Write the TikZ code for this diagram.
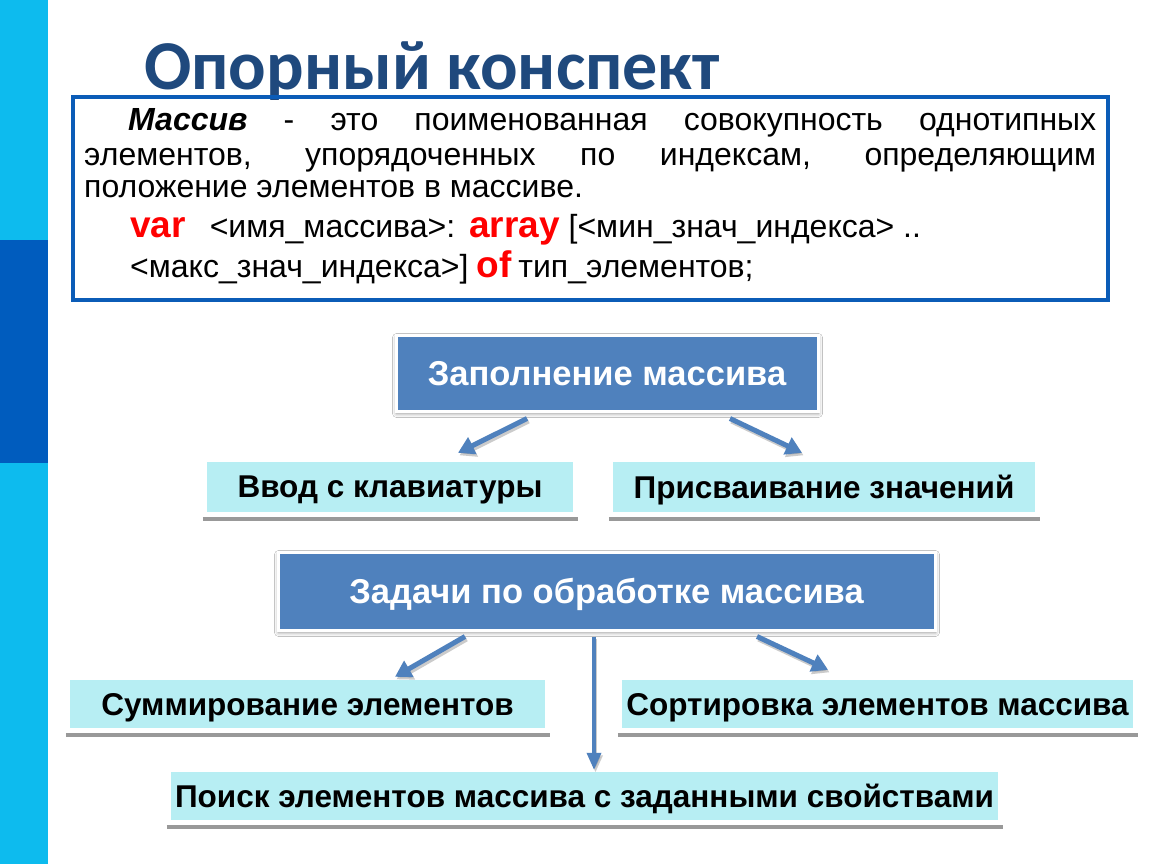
\documentclass[tikz,border=0pt]{standalone}
\usepackage{fontspec}
\setmainfont{Liberation Sans}
\newfontfamily\titlefont{Carlito}
\usetikzlibrary{arrows.meta,shadows.blur,calc}
\definecolor{sidelight}{RGB}{13,187,238}
\definecolor{sidedark}{RGB}{0,92,190}
\definecolor{titlecol}{RGB}{31,73,125}
\definecolor{framecol}{RGB}{11,92,183}
\definecolor{boxblue}{RGB}{79,129,189}
\definecolor{lightcyan}{RGB}{183,238,243}
\definecolor{kwred}{RGB}{255,0,0}
\newcommand{\kw}[1]{{\color{kwred}\bfseries\fontsize{37}{37}\selectfont #1}}
\tikzset{
  bodytext/.style={anchor=base west, inner sep=0pt, font=\fontsize{32}{33}\selectfont},
  bluebox/.style={fill=boxblue, draw=white, line width=3pt, text=white, inner sep=0pt, text depth=0pt,
    font=\bfseries\fontsize{34.5}{36}\selectfont,
    blur shadow={shadow xshift=0.5pt, shadow yshift=-2.5pt, shadow blur radius=4pt, shadow opacity=45}},
  cyanbox/.style={fill=lightcyan, inner sep=0pt, text depth=0pt, font=\bfseries\fontsize{31.5}{33}\selectfont},
  uline/.style={draw=black!40, line width=3.5pt},
  arr/.style={draw=boxblue, line width=5pt, -{Triangle[length=16pt,width=18pt]}},
  arrsh/.style={draw=black!45, opacity=0.45, line width=5pt, -{Triangle[length=16pt,width=18pt]}},
  varr/.style={draw=boxblue, line width=3.5pt, -{Triangle[length=17pt,width=14pt]}},
  varrsh/.style={draw=black!45, opacity=0.45, line width=3.5pt, -{Triangle[length=17pt,width=14pt]}},
}
\begin{document}
\begin{tikzpicture}[x=1pt,y=-1pt]
\useasboundingbox (0,0) rectangle (1150,864);
\fill[white] (0,0) rectangle (1150,864);
% sidebar
\fill[sidelight] (0,0) rectangle (48,864);
\fill[sidedark] (0,240) rectangle (48,463);
% title
\node[anchor=base, inner sep=0pt, font=\titlefont\bfseries\fontsize{70}{72}\selectfont, text=titlecol] (title) at (432,90) {Опорный конспект};
% definition frame
\node[draw=framecol, line width=4.5pt, inner sep=0pt, minimum width=1035pt, minimum height=203pt] (frame) at (590.5,198.5) {};
\node[bodytext] (l1) at (128,131) {\makebox[968pt][s]{\textbf{\textit{Массив}} - это поименованная совокупность однотипных}};
\node[bodytext] (l2) at (84,165) {\makebox[1012pt][s]{элементов, упорядоченных по индексам, определяющим}};
\node[bodytext] (l3) at (84,197) {положение элементов в массиве.};
\node[bodytext] (l4) at (130,237) {\kw{var}\hspace{24pt}<имя\_массива>:\hspace{14pt}\kw{array}\hspace{9pt}[<мин\_знач\_индекса> ..};
\node[bodytext] (l5) at (130,277) {<макс\_знач\_индекса>]\hspace{8pt}\kw{of}\hspace{7pt}тип\_элементов;};
% blue boxes
\node[bluebox, minimum width=422pt, minimum height=76pt] (b1) at (607,373) {Заполнение массива};
\node[bluebox, minimum width=657pt, minimum height=78pt] (b2) at (606.5,591) {Задачи по обработке массива};
% cyan boxes
\node[cyanbox, minimum width=366pt, minimum height=50pt] (v1) at (390,487) {Ввод с клавиатуры};
\node[cyanbox, minimum width=422pt, minimum height=50pt] (v2) at (824,487) {Присваивание значений};
\node[cyanbox, minimum width=475pt, minimum height=48pt] (s1) at (307.5,704) {Суммирование элементов};
\node[cyanbox, minimum width=511pt, minimum height=48pt] (s2) at (877.5,704) {Сортировка элементов массива};
\node[cyanbox, minimum width=827pt, minimum height=48pt] (s3) at (584.5,796) {Поиск элементов массива с заданными свойствами};
% underlines
\foreach \n in {v1,v2,s1,s2,s3}{
  \draw[uline] ([shift={(-4,7)}]\n.south west) -- ([shift={(5,7)}]\n.south east);
}
% connectors: shadows
\begin{scope}[transform canvas={shift={(1.5pt,-2.5pt)}}]
\draw[arrsh] ([shift={(-80,6)}]b1.south) -- ([shift={(68,-9)}]v1.north);
\draw[arrsh] ([shift={(123,6)}]b1.south) -- ([shift={(-22,-9)}]v2.north);
\draw[arrsh] ([shift={(-141.5,5)}]b2.south) -- ([shift={(87.5,-3)}]s1.north);
\draw[arrsh] ([shift={(150.5,5)}]b2.south) -- ([shift={(-49.5,-10)}]s2.north);
\draw[varrsh] ([shift={(-12.5,5)}]b2.south) -- ([shift={(9.5,-2)}]s3.north);
\end{scope}
% connectors
\draw[arr] ([shift={(-80,6)}]b1.south) -- ([shift={(68,-9)}]v1.north);
\draw[arr] ([shift={(123,6)}]b1.south) -- ([shift={(-22,-9)}]v2.north);
\draw[arr] ([shift={(-141.5,5)}]b2.south) -- ([shift={(87.5,-3)}]s1.north);
\draw[arr] ([shift={(150.5,5)}]b2.south) -- ([shift={(-49.5,-10)}]s2.north);
\draw[varr] ([shift={(-12.5,5)}]b2.south) -- ([shift={(9.5,-2)}]s3.north);
\end{tikzpicture}
\end{document}
